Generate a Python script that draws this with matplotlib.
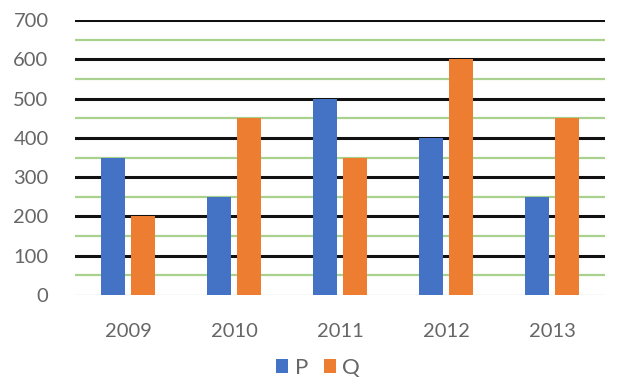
import matplotlib
matplotlib.use("Agg")
import matplotlib.pyplot as plt
import numpy as np

years = ["2009", "2010", "2011", "2012", "2013"]
p_vals = [350, 250, 500, 400, 250]
q_vals = [200, 450, 350, 600, 450]
y_ticks = [0, 100, 200, 300, 400, 500, 600, 700]

plt.rcParams['font.family'] = ['Lato', 'DejaVu Sans']
fig = plt.figure(figsize=(6.17, 3.85), dpi=100)
ax = fig.add_axes([75/617, 1-295/385, 530/617, 275/385])

x = np.arange(len(years))
w = 0.225
off = 0.145
ax.bar(x - off, p_vals, width=w, color="#4472C4", zorder=3, label="P")
ax.bar(x + off, q_vals, width=w, color="#ED7D31", zorder=3, label="Q")

for v in range(50, 700, 100):
    ax.axhline(v, color="#A9D18E", lw=1.6, zorder=1)
for v in y_ticks[1:]:
    ax.axhline(v, color="#111111", lw=2.2, zorder=1)
ax.axhline(0, color="#D9D9D9", lw=1.0, zorder=2)

ax.set_xlim(-0.5, 4.5)
ax.set_ylim(0, 700)
ax.set_yticks(y_ticks)
ax.set_xticks(x)
ax.set_xticklabels(years)
ax.tick_params(axis='both', length=0, labelsize=14.5, colors="#666666")
ax.tick_params(axis='y', pad=19)
ax.tick_params(axis='x', pad=20)
for s in ax.spines.values():
    s.set_visible(False)

leg = fig.legend(loc="center", bbox_to_anchor=(318/617, 1-368/385), ncol=2,
                 frameon=False, fontsize=16, handlelength=0.55, handleheight=0.55,
                 handletextpad=0.3, columnspacing=0.7, labelcolor="#666666")

fig.savefig("out.png", dpi=100)
